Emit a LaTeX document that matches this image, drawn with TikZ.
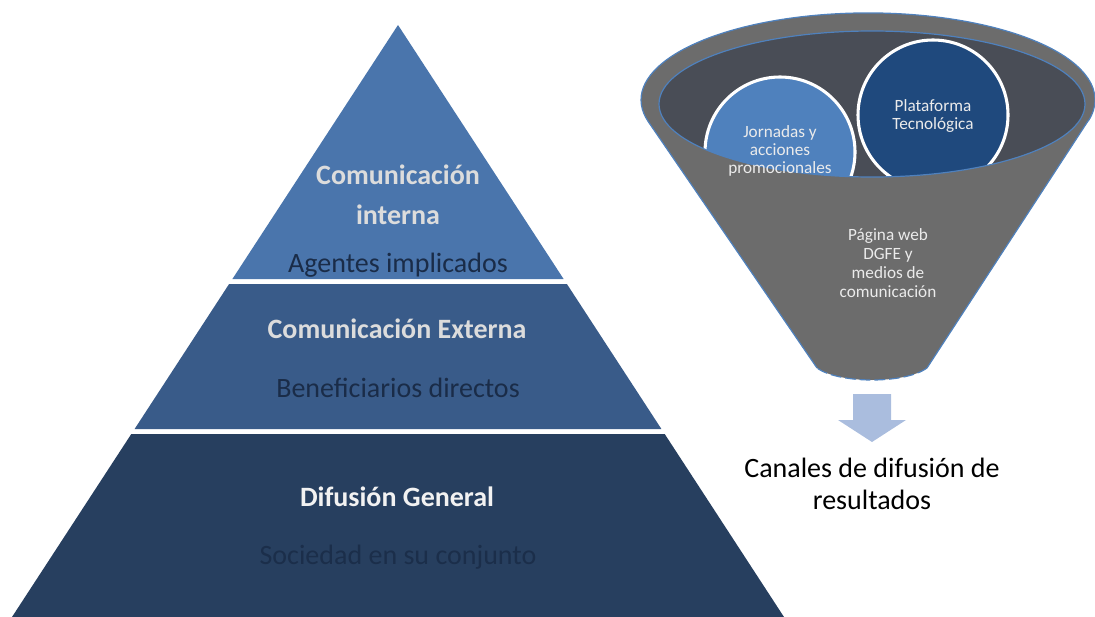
\documentclass[tikz,border=0pt]{standalone}
\usepackage{fontspec}
\setmainfont{Carlito}
\definecolor{layA}{RGB}{74,117,172}
\definecolor{layB}{RGB}{57,91,137}
\definecolor{layC}{RGB}{39,63,95}
\definecolor{lightlbl}{RGB}{220,220,220}
\definecolor{darklbl}{RGB}{26,44,72}
\definecolor{funnelgray}{RGB}{108,108,108}
\definecolor{innergray}{RGB}{73,77,86}
\definecolor{rimblue}{RGB}{79,129,189}
\definecolor{circA}{RGB}{79,129,189}
\definecolor{circB}{RGB}{31,73,125}
\definecolor{arrowblue}{RGB}{170,189,222}
\tikzset{
  boldlbl/.style={font=\fontsize{21}{25}\selectfont\bfseries, text=lightlbl, inner sep=0pt},
  sublbl/.style={font=\fontsize{21}{25}\selectfont, text=darklbl, inner sep=0pt},
  funtxt/.style={font=\fontsize{12.9}{13.2}\selectfont, text=white!92!black, align=center, inner sep=0pt},
  circ/.style={circle, draw=white, line width=2.3pt, minimum size=112.5pt, inner sep=0pt},
  caption/.style={font=\fontsize{21}{24.5}\selectfont, text=black, align=center, inner sep=0pt},
  rim/.style={rimblue, line width=0.9pt}
}
\begin{document}
\begin{tikzpicture}[x=0.75pt,y=-0.75pt]
\useasboundingbox (0,0) rectangle (1095,617);
% ---------- pyramid ----------
\fill[layA] (398,25) -- (563.6,279) -- (232.4,279) -- cycle;
\fill[layB] (229.1,284) -- (566.9,284) -- (661.4,429) -- (134.6,429) -- cycle;
\fill[layC] (131.3,434) -- (664.7,434) -- (784,617) -- (12,617) -- cycle;
\node[boldlbl] (ci1) at (398,175) {Comunicación};
\node[boldlbl] (ci2) at (398,215) {interna};
\node[sublbl]  (ag)  at (398,265) {Agentes implicados};
\node[boldlbl] (ce)  at (397,329) {Comunicación Externa};
\node[sublbl]  (be)  at (398,388) {Beneficiarios directos};
\node[boldlbl, text=white!95!black] (dg) at (397,497) {Difusión General};
\node[sublbl, text=darklbl!90!layC]  (so) at (398,557) {Sociedad en su conjunto};
% ---------- funnel ----------
\fill[funnelgray] (648.5,122) -- (1088,121) -- (927,368)
   .. controls (905,384) and (839,384) .. (817,368) -- cycle;
\fill[funnelgray] (868,100) ellipse [x radius=227, y radius=87];
\draw[rim] (648.5,122) -- (817,368);
\draw[rim] (1088,121) -- (927,368);
\draw[rim, dash pattern=on 8pt off 3pt] (927,368) .. controls (905,384) and (839,384) .. (817,368);
\draw[rim] (648.5,122) arc[start angle=165.3, end angle=374.1, x radius=227, y radius=87];
\fill[innergray] (872,104) ellipse [x radius=213, y radius=73];
\begin{scope}
  \clip (872,104) ellipse [x radius=213, y radius=73];
  \node[circ, fill=circA] (jo) at (780,152) {};
  \node[circ, fill=circB] (pl) at (933,115) {};
\end{scope}
\draw[rim] (872,104) ellipse [x radius=213, y radius=73];
\node[funtxt] (jt) at (780,151) {Jornadas y\\acciones\\promocionales};
\node[funtxt] (pt) at (933,116) {Plataforma\\Tecnológica};
\node[funtxt, font=\fontsize{12.9}{14.3}\selectfont] (pw) at (888,263) {Página web\\DGFE y\\medios de\\comunicación};
% ---------- arrow ----------
\fill[arrowblue] (853,394) -- (891,394) -- (891,420) -- (906,420) -- (872,442) -- (838,420) -- (853,420) -- cycle;
\node[caption] (cap) at (872,484) {Canales de difusión de\\resultados};
\end{tikzpicture}
\end{document}
